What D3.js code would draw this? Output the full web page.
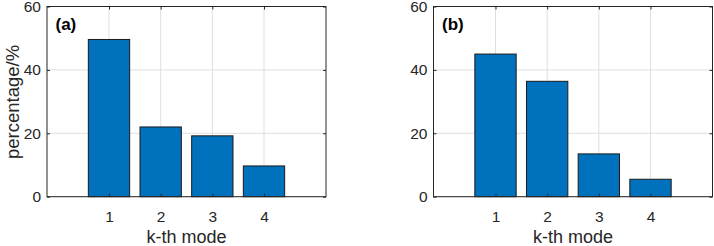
<!DOCTYPE html>
<html>
<head>
<meta charset="utf-8">
<script src="https://cdn.jsdelivr.net/npm/d3@7"></script>
<style>
  body { margin: 0; background: #fff; }
  text { font-family: "Liberation Sans", Arial, sans-serif; }
</style>
</head>
<body>
<div id="chart-area"></div>
<script>
// data
var modes = [1, 2, 3, 4];
var valuesA = [49.6, 22.0, 19.2, 9.7];
var valuesB = [45.0, 36.4, 13.5, 5.5];
var yTicks = [0, 20, 40, 60];
var panelLabels = ["(a)", "(b)"];

var W = 714, H = 246;
var svg = d3.select("#chart-area").append("svg")
    .attr("width", W).attr("height", H);

var panels = [
  {left: 47, values: valuesA, label: panelLabels[0], ylab: true},
  {left: 433.5, values: valuesB, label: panelLabels[1], ylab: false}
];
var pw = 279, plotTop = 6.5, plotBottom = 196.7;
var axisColor = "#262626";
var fmt = d3.format("d");

panels.forEach(function(p){
  var x = d3.scaleLinear().domain([-0.2, 5.2]).range([p.left, p.left + pw]);
  var y = d3.scaleLinear().domain([0, 60]).range([plotBottom, plotTop]);
  var g = svg.append("g");

  // grid
  g.selectAll(".gx").data(modes).enter().append("line")
      .attr("x1", function(d){ return x(d); }).attr("x2", function(d){ return x(d); })
      .attr("y1", plotTop).attr("y2", plotBottom)
      .attr("stroke", "#dfdfdf").attr("stroke-width", 1);
  g.selectAll(".gy").data(yTicks).enter().append("line")
      .attr("x1", p.left).attr("x2", p.left + pw)
      .attr("y1", function(d){ return y(d); }).attr("y2", function(d){ return y(d); })
      .attr("stroke", "#dfdfdf").attr("stroke-width", 1);

  // bars
  g.selectAll(".bar").data(p.values).enter().append("rect")
      .attr("x", function(d, i){ return x(modes[i] - 0.4); })
      .attr("width", x(0.8) - x(0))
      .attr("y", function(d){ return y(d); })
      .attr("height", function(d){ return y(0) - y(d); })
      .attr("fill", "#0072BD")
      .attr("stroke", "#1a1a1a").attr("stroke-width", 1);

  // box
  g.append("rect")
      .attr("x", p.left).attr("y", plotTop)
      .attr("width", pw).attr("height", plotBottom - plotTop)
      .attr("fill", "none").attr("stroke", axisColor).attr("stroke-width", 1);

  // axes with inward ticks (mirrored like matlab)
  var xb = g.append("g").attr("transform", "translate(0," + plotBottom + ")")
      .call(d3.axisBottom(x).tickValues(modes).tickFormat(fmt).tickSizeInner(-3).tickSizeOuter(0).tickPadding(14));
  var xt = g.append("g").attr("transform", "translate(0," + plotTop + ")")
      .call(d3.axisTop(x).tickValues(modes).tickSizeInner(-3).tickSizeOuter(0).tickFormat(""));
  var yl = g.append("g").attr("transform", "translate(" + p.left + ",0)")
      .call(d3.axisLeft(y).tickValues(yTicks).tickFormat(fmt).tickSizeInner(-3).tickSizeOuter(0).tickPadding(6));
  var yr = g.append("g").attr("transform", "translate(" + (p.left + pw) + ",0)")
      .call(d3.axisRight(y).tickValues(yTicks).tickSizeInner(-3).tickSizeOuter(0).tickFormat(""));
  [xb, xt, yl, yr].forEach(function(a){
    a.select(".domain").remove();
    a.selectAll("line").attr("stroke", axisColor);
    a.selectAll("text").attr("fill", axisColor)
      .attr("font-size", "15.5px").attr("font-family", "Liberation Sans, Arial, sans-serif");
  });

  g.append("text")
      .attr("x", x(2.5)).attr("y", 243)
      .attr("text-anchor", "middle").attr("font-size", "18px").attr("fill", axisColor)
      .text("k-th mode");

  if (p.ylab) {
    g.append("text")
        .attr("transform", "translate(19," + 102 + ") rotate(-90)")
        .attr("text-anchor", "middle").attr("font-size", "18.5px").attr("fill", axisColor)
        .text("percentage/%");
  }

  g.append("text")
      .attr("x", p.left + 8.5).attr("y", 29.5)
      .attr("font-size", "17px").attr("font-weight", "bold").attr("fill", "#000")
      .text(p.label);
});
</script>
</body>
</html>
